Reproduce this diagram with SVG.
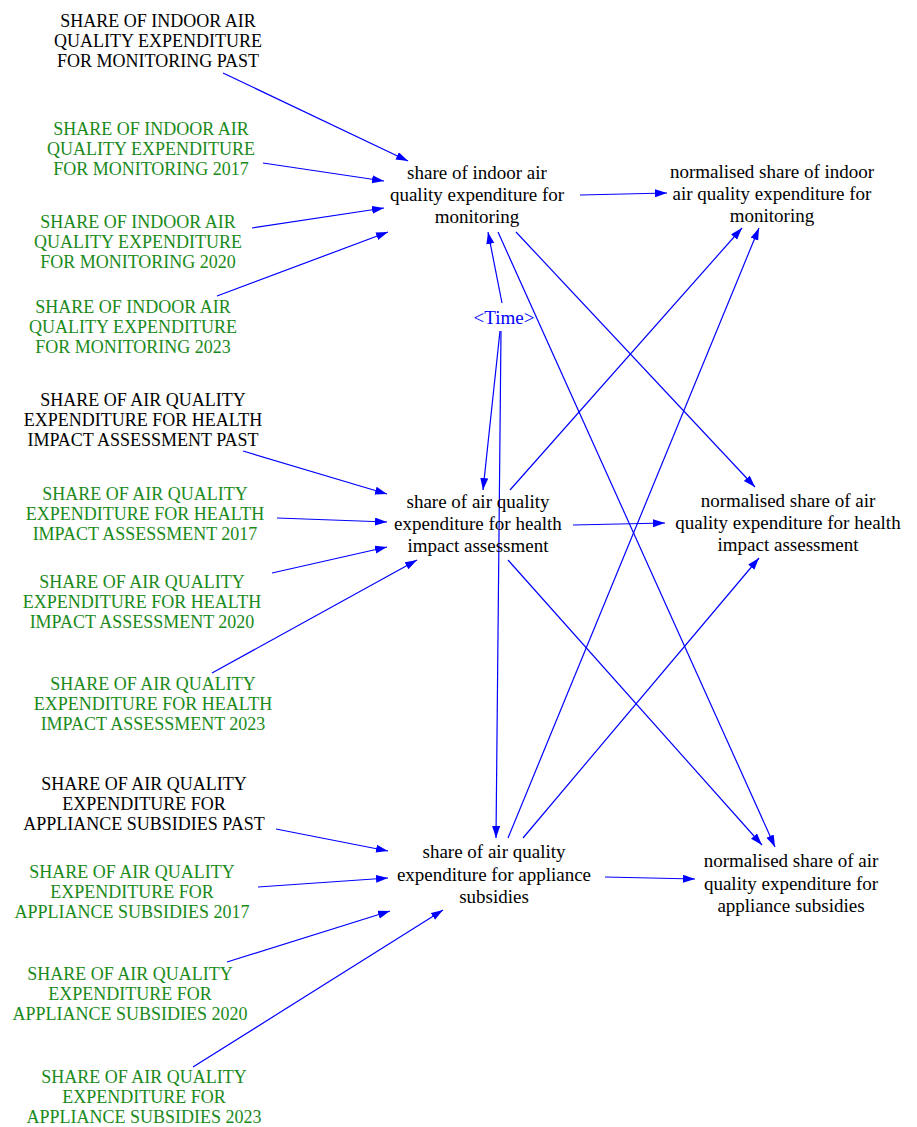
<svg xmlns="http://www.w3.org/2000/svg" width="917" height="1127" viewBox="0 0 917 1127">
<style>
  text { font-family: "Liberation Serif", "Times New Roman", serif; text-anchor: middle; }
  .cap { font-size: 18px; }
  .low { font-size: 19px; fill: #000; }
  .blk { fill: #000; }
  .grn { fill: #1a8a1a; }
  .tim { font-size: 19px; fill: #0000ff; }
  .lnk { stroke: #0000ff; stroke-width: 1.2; fill: none; marker-end: url(#ah); }
</style>
<defs>
  <marker id="ah" markerUnits="userSpaceOnUse" markerWidth="13" markerHeight="9" refX="12" refY="4" orient="auto">
    <path d="M0,0 L12,4 L0,8 z" fill="#0000ff"/>
  </marker>
</defs>
<rect width="917" height="1127" fill="#fff"/>

<g id="connectors">
  <line class="lnk" x1="223" y1="73" x2="408" y2="161"/>
  <line class="lnk" x1="263" y1="163" x2="384" y2="181"/>
  <line class="lnk" x1="252" y1="228" x2="384" y2="208"/>
  <line class="lnk" x1="217" y1="296" x2="388" y2="232"/>
  <line class="lnk" x1="580" y1="195" x2="667" y2="193"/>
  <line class="lnk" x1="502" y1="303" x2="488" y2="232"/>
  <line class="lnk" x1="500" y1="331" x2="483" y2="490"/>
  <line class="lnk" x1="501" y1="331" x2="496" y2="838"/>
  <line class="lnk" x1="510" y1="490" x2="742" y2="228"/>
  <line class="lnk" x1="508" y1="838" x2="759" y2="228"/>
  <line class="lnk" x1="516" y1="232" x2="755" y2="487"/>
  <line class="lnk" x1="498" y1="232" x2="775" y2="847"/>
  <line class="lnk" x1="573" y1="525" x2="665" y2="523"/>
  <line class="lnk" x1="508" y1="560" x2="762" y2="845"/>
  <line class="lnk" x1="523" y1="838" x2="759" y2="558"/>
  <line class="lnk" x1="605" y1="877" x2="695" y2="879"/>
  <line class="lnk" x1="243" y1="451" x2="387" y2="494"/>
  <line class="lnk" x1="277" y1="518" x2="387" y2="522"/>
  <line class="lnk" x1="272" y1="573" x2="387" y2="547"/>
  <line class="lnk" x1="212" y1="673" x2="417" y2="560"/>
  <line class="lnk" x1="276" y1="829" x2="388" y2="851"/>
  <line class="lnk" x1="258" y1="887" x2="388" y2="878"/>
  <line class="lnk" x1="227" y1="962" x2="390" y2="911"/>
  <line class="lnk" x1="193" y1="1067" x2="443" y2="910"/>
</g>

<g id="m_past"><text class="cap blk"><tspan x="158" y="27">SHARE OF INDOOR AIR</tspan><tspan x="158" y="47">QUALITY EXPENDITURE</tspan><tspan x="158" y="67">FOR MONITORING PAST</tspan></text></g>
<g id="m_2017"><text class="cap grn"><tspan x="151" y="135">SHARE OF INDOOR AIR</tspan><tspan x="151" y="155">QUALITY EXPENDITURE</tspan><tspan x="151" y="175">FOR MONITORING 2017</tspan></text></g>
<g id="m_2020"><text class="cap grn"><tspan x="138" y="228">SHARE OF INDOOR AIR</tspan><tspan x="138" y="248">QUALITY EXPENDITURE</tspan><tspan x="138" y="268">FOR MONITORING 2020</tspan></text></g>
<g id="m_2023"><text class="cap grn"><tspan x="133" y="313">SHARE OF INDOOR AIR</tspan><tspan x="133" y="333">QUALITY EXPENDITURE</tspan><tspan x="133" y="353">FOR MONITORING 2023</tspan></text></g>
<g id="share_mon"><text class="low"><tspan x="477" y="179">share of indoor air</tspan><tspan x="477" y="201">quality expenditure for</tspan><tspan x="477" y="223">monitoring</tspan></text></g>
<g id="norm_mon"><text class="low"><tspan x="772" y="178">normalised share of indoor</tspan><tspan x="772" y="200">air quality expenditure for</tspan><tspan x="772" y="222">monitoring</tspan></text></g>
<g id="time"><text class="tim" x="504" y="324">&lt;Time&gt;</text></g>

<g id="h_past"><text class="cap blk"><tspan x="143" y="406">SHARE OF AIR QUALITY</tspan><tspan x="143" y="426">EXPENDITURE FOR HEALTH</tspan><tspan x="143" y="446">IMPACT ASSESSMENT PAST</tspan></text></g>
<g id="h_2017"><text class="cap grn"><tspan x="145" y="500">SHARE OF AIR QUALITY</tspan><tspan x="145" y="520">EXPENDITURE FOR HEALTH</tspan><tspan x="145" y="540">IMPACT ASSESSMENT 2017</tspan></text></g>
<g id="h_2020"><text class="cap grn"><tspan x="142" y="588">SHARE OF AIR QUALITY</tspan><tspan x="142" y="608">EXPENDITURE FOR HEALTH</tspan><tspan x="142" y="628">IMPACT ASSESSMENT 2020</tspan></text></g>
<g id="h_2023"><text class="cap grn"><tspan x="153" y="690">SHARE OF AIR QUALITY</tspan><tspan x="153" y="710">EXPENDITURE FOR HEALTH</tspan><tspan x="153" y="730">IMPACT ASSESSMENT 2023</tspan></text></g>
<g id="share_h"><text class="low"><tspan x="478" y="508">share of air quality</tspan><tspan x="478" y="530">expenditure for health</tspan><tspan x="478" y="552">impact assessment</tspan></text></g>
<g id="norm_h"><text class="low"><tspan x="788" y="507">normalised share of air</tspan><tspan x="788" y="529">quality expenditure for health</tspan><tspan x="788" y="551">impact assessment</tspan></text></g>

<g id="a_past"><text class="cap blk"><tspan x="144" y="790">SHARE OF AIR QUALITY</tspan><tspan x="144" y="810">EXPENDITURE FOR</tspan><tspan x="144" y="830">APPLIANCE SUBSIDIES PAST</tspan></text></g>
<g id="a_2017"><text class="cap grn"><tspan x="132" y="878">SHARE OF AIR QUALITY</tspan><tspan x="132" y="898">EXPENDITURE FOR</tspan><tspan x="132" y="918">APPLIANCE SUBSIDIES 2017</tspan></text></g>
<g id="a_2020"><text class="cap grn"><tspan x="130" y="980">SHARE OF AIR QUALITY</tspan><tspan x="130" y="1000">EXPENDITURE FOR</tspan><tspan x="130" y="1020">APPLIANCE SUBSIDIES 2020</tspan></text></g>
<g id="a_2023"><text class="cap grn"><tspan x="144" y="1083">SHARE OF AIR QUALITY</tspan><tspan x="144" y="1103">EXPENDITURE FOR</tspan><tspan x="144" y="1123">APPLIANCE SUBSIDIES 2023</tspan></text></g>
<g id="share_a"><text class="low"><tspan x="494" y="858">share of air quality</tspan><tspan x="494" y="881">expenditure for appliance</tspan><tspan x="494" y="903">subsidies</tspan></text></g>
<g id="norm_a"><text class="low"><tspan x="791" y="867">normalised share of air</tspan><tspan x="791" y="890">quality expenditure for</tspan><tspan x="791" y="912">appliance subsidies</tspan></text></g>
</svg>
